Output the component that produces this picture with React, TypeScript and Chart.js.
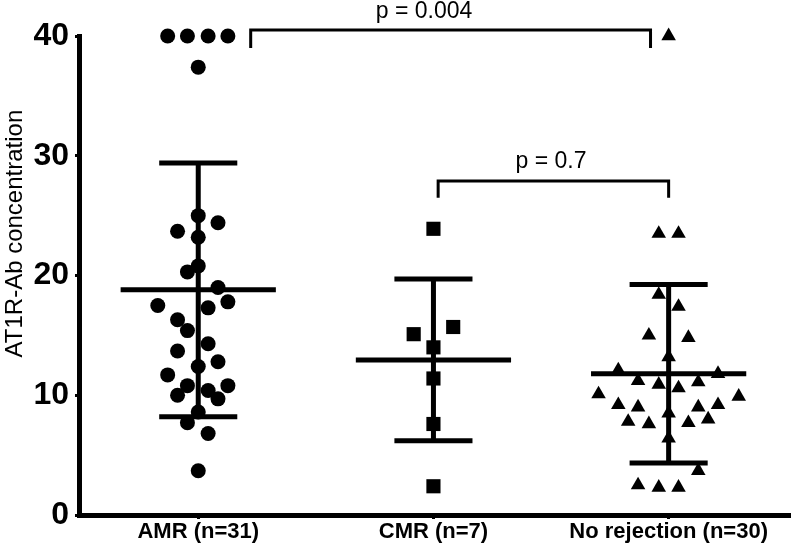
import React, { useEffect, useRef } from "react";
import { Chart, registerables } from "chart.js";
Chart.register(...registerables);

// ---- data ----
const categories = ["AMR (n=31)", "CMR (n=7)", "No rejection (n=30)"];
const yTickValues = [0, 10, 20, 30, 40];

// AMR (circles): x = group position + read horizontal offset
const amrX = [-0.13, -0.046, 0.042, 0.126, 0, 0, 0.084, -0.088, 0, 0, -0.046, 0.084, -0.172, 0.126, 0.042, -0.088, -0.046, 0.042, -0.088, 0.084, 0, -0.13, -0.046, 0.126, 0.042, -0.088, 0.084, 0, -0.046, 0.042, 0];
const amrY = [40, 40, 40, 40, 37.4, 25.0, 24.4, 23.7, 23.2, 20.8, 20.3, 19.0, 17.5, 17.8, 17.3, 16.3, 15.4, 14.3, 13.7, 12.8, 12.4, 11.7, 10.8, 10.8, 10.4, 10.0, 9.7, 8.6, 7.7, 6.8, 3.7];

// CMR (squares)
const cmrX = [1, 0.916, 1.084, 1, 1, 1, 1];
const cmrY = [23.9, 15.1, 15.7, 14.0, 11.4, 7.6, 2.4];

// No rejection (triangles)
const norX = [2, 1.958, 2.042, 1.958, 2.042, 1.916, 2.084, 2, 1.786, 2.21, 1.87, 1.958, 2.042, 2.126, 1.702, 2.298, 1.786, 1.87, 2.126, 2.21, 2, 1.828, 1.916, 2.084, 2.168, 2, 2.126, 1.87, 1.958, 2.042];
const norY = [40, 23.5, 23.5, 18.4, 17.4, 15.0, 14.8, 13.2, 12.1, 11.8, 11.2, 10.9, 10.6, 11.1, 10.1, 9.9, 9.2, 9.0, 9.0, 9.2, 8.5, 7.8, 7.6, 7.7, 8.0, 6.4, 3.7, 2.5, 2.3, 2.3];

// mean ± SD per group
const groupMeans = [18.8, 12.95, 11.8];
const groupSD = [10.6, 6.75, 7.45];

// significance brackets
const pLabels = ["p = 0.004", "p = 0.7"];
const bracketStart = [0.223, 1.02];
const bracketEnd = [1.923, 2.0];
const bracketTop = [40.5, 27.9];
const bracketBottom = [39.0, 26.5];
const pLabelX = [0.96, 1.5];
const pLabelY = [41.5, 29.0];

const yTitle = "AT1R-Ab concentration";

const FONT = '"Liberation Sans", Arial, Helvetica, sans-serif';

export default function App() {
  const ref = useRef<HTMLCanvasElement | null>(null);

  useEffect(() => {
    document.body.style.margin = "0";
    const canvas = ref.current;
    if (!canvas) return;

    const lineDs = (pts: { x: number; y: number }[], w: number) => ({
      type: "scatter" as const,
      data: pts,
      showLine: true,
      borderColor: "#000",
      borderWidth: w,
      pointRadius: 0,
      pointHoverRadius: 0,
      borderCapStyle: "butt" as const,
      borderJoinStyle: "miter" as const,
      clip: false as any,
      tension: 0,
    });

    const datasets: any[] = [];
    groupMeans.forEach((m, i) => {
      const s = groupSD[i];
      datasets.push(lineDs([{ x: i - 0.33, y: m }, { x: i + 0.33, y: m }], 5));
      datasets.push(lineDs([{ x: i - 0.166, y: m + s }, { x: i + 0.166, y: m + s }], 5));
      datasets.push(lineDs([{ x: i - 0.166, y: m - s }, { x: i + 0.166, y: m - s }], 5));
      datasets.push(lineDs([{ x: i, y: m + s }, { x: i, y: m - s }], 5));
    });
    bracketStart.forEach((s, i) => {
      datasets.push(
        lineDs(
          [
            { x: s, y: bracketBottom[i] },
            { x: s, y: bracketTop[i] },
            { x: bracketEnd[i], y: bracketTop[i] },
            { x: bracketEnd[i], y: bracketBottom[i] },
          ],
          3
        )
      );
    });
    const ptDs = (xs: number[], ys: number[], style: string, r: number) => ({
      type: "scatter" as const,
      data: xs.map((x, i) => ({ x, y: ys[i] })),
      pointStyle: style,
      pointRadius: r,
      pointHoverRadius: r,
      backgroundColor: "#000",
      borderColor: "#000",
      borderWidth: 0,
      showLine: false,
      clip: false as any,
    });
    datasets.push(ptDs(amrX, amrY, "circle", 7.5));
    datasets.push(ptDs(cmrX, cmrY, "rect", 10));
    datasets.push(ptDs(norX, norY, "triangle", 8.4));

    const annot = {
      id: "annot",
      afterDatasetsDraw(chart: any) {
        const { ctx } = chart;
        const x = chart.scales.x;
        const y = chart.scales.y;
        ctx.save();
        ctx.fillStyle = "#000";
        ctx.font = `23px ${FONT}`;
        ctx.textAlign = "center";
        ctx.textBaseline = "alphabetic";
        pLabels.forEach((t, i) => {
          ctx.fillText(t, x.getPixelForValue(pLabelX[i]), y.getPixelForValue(pLabelY[i]));
        });
        ctx.translate(15, y.getPixelForValue(23.5));
        ctx.rotate(-Math.PI / 2);
        ctx.textBaseline = "middle";
        ctx.font = `24px ${FONT}`;
        ctx.fillText(yTitle, 0, 0);
        ctx.restore();
      },
    };

    const chart = new Chart(canvas, {
      type: "scatter",
      data: { datasets },
      plugins: [annot],
      options: {
        animation: false,
        responsive: false,
        maintainAspectRatio: false,
        layout: { padding: { top: 36, right: 0, left: 0, bottom: 0 } },
        plugins: { legend: { display: false }, tooltip: { enabled: false } },
        scales: {
          x: {
            type: "linear",
            min: -0.507,
            max: 2.516,
            afterFit: (s: any) => {
              s.height = 34;
            },
            afterBuildTicks: (s: any) => {
              s.ticks = categories.map((_, i) => ({ value: i }));
            },
            border: { display: true, color: "#000", width: 5 },
            grid: {
              display: true,
              drawOnChartArea: false,
              drawTicks: true,
              tickLength: 4,
              tickWidth: 3,
              tickColor: "#000",
            },
            ticks: {
              autoSkip: false,
              maxRotation: 0,
              padding: 0,
              color: "#000",
              font: { family: FONT, size: 22, weight: "bold" },
              callback: (v: any) => categories[Math.round(v)] ?? "",
            },
          },
          y: {
            type: "linear",
            min: 0,
            max: 40,
            afterFit: (s: any) => {
              s.width = 79;
            },
            afterBuildTicks: (s: any) => {
              s.ticks = yTickValues.map((v) => ({ value: v }));
            },
            border: { display: true, color: "#000", width: 5 },
            grid: {
              display: true,
              drawOnChartArea: false,
              drawTicks: true,
              tickLength: 4,
              tickWidth: 3,
              tickColor: "#000",
            },
            ticks: {
              padding: 6,
              color: "#000",
              font: { family: FONT, size: 32, weight: "bold" },
            },
          },
        },
      },
    });
    return () => chart.destroy();
  }, []);

  return (
    <div style={{ width: 800, height: 549 }}>
      <canvas ref={ref} width={800} height={549} style={{ width: 800, height: 549, display: "block" }} />
    </div>
  );
}
